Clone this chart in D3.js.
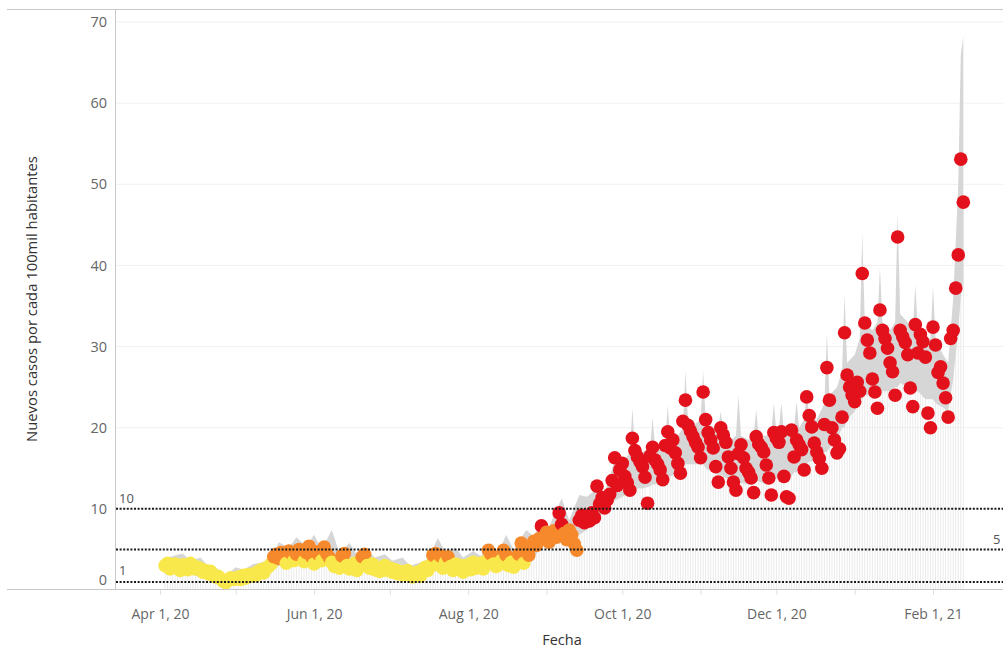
<!DOCTYPE html>
<html>
<head>
<meta charset="utf-8">
<script src="https://cdnjs.cloudflare.com/ajax/libs/d3/7.8.5/d3.min.js"></script>
<style>
  body { margin: 0; background: #fff; }
  text { font-family: "Open Sans", sans-serif; }
</style>
</head>
<body>
<svg id="chart" width="1003" height="652"></svg>
<script>
// daily new cases per 100k, one value per day starting Apr 3, 2020
var fechaInicio = new Date(2020, 3, 3);
var casos = [
  3.0, 3.3, 2.6, 2.9, 3.2, 2.7, 2.4,
  3.1, 2.8, 2.5, 3.3, 3.0, 2.6, 2.8,
  2.6, 2.2, 2.4, 2.0, 2.3, 1.8, 1.6,
  1.7, 1.4, 1.1, 0.9, 1.2, 1.5, 1.3,
  1.4, 1.6, 1.3, 1.8, 1.5, 1.9, 1.7,
  2.0, 1.8, 2.3, 2.5, 2.1, 2.7, 2.9,
  3.2, 4.1, 4.4, 3.9, 4.6, 4.3, 3.3,
  4.8, 4.5, 3.6, 4.4, 5.0, 4.2, 3.5,
  4.6, 5.4, 4.1, 3.2, 4.7, 4.3, 3.6,
  5.3, 4.5, 4.0, 3.4, 2.9, 3.1, 2.7,
  4.2, 4.5, 3.0, 2.6, 2.8, 3.3, 2.4,
  2.9, 4.1, 4.4, 3.0, 2.7, 3.2, 2.5,
  2.8, 2.3, 2.6, 3.0, 2.4, 2.7, 2.2,
  2.5, 2.0, 2.3, 1.9, 2.1, 2.4, 1.8,
  1.6, 1.9, 2.2, 1.7, 2.5, 2.8, 2.4,
  3.0, 4.3, 4.5, 3.1, 4.2, 2.7, 3.4,
  4.1, 2.9, 2.4, 3.2, 2.6, 3.0, 2.2,
  2.8, 3.1, 2.5, 3.4, 2.7, 3.0, 3.3,
  2.6, 3.5, 4.9, 4.4, 3.2, 2.9, 3.1,
  3.6, 4.9, 4.3, 3.0, 3.4, 2.8, 3.2,
  4.4, 5.8, 3.3, 5.1, 4.3, 5.4, 6.0,
  5.5, 6.3, 7.9, 6.6, 7.1, 5.9, 6.8,
  7.3, 6.5, 9.5, 8.1, 7.0, 6.2, 7.4,
  6.8, 5.7, 4.9, 8.6, 9.2, 8.3, 9.0,
  8.5, 9.5, 8.9, 12.8, 10.6, 11.4, 10.1,
  11.1, 11.8, 13.5, 16.3, 12.9, 14.8, 15.6,
  14.0, 13.2, 12.3, 18.7, 17.2, 16.4, 15.8,
  15.2, 13.9, 10.7, 16.5, 17.6, 16.0, 15.5,
  14.8, 13.6, 17.8, 19.5, 17.5, 18.5, 16.9,
  15.6, 14.4, 20.8, 23.4, 20.3, 19.6, 18.9,
  18.2, 17.6, 16.3, 24.4, 21.0, 19.4, 18.5,
  17.5, 15.2, 13.3, 20.0, 19.1, 18.2, 16.4,
  15.0, 13.3, 12.3, 16.8, 17.9, 16.3, 15.0,
  14.5, 13.8, 12.0, 18.9, 18.0, 17.6, 17.0,
  15.4, 13.8, 11.7, 19.4, 18.7, 18.2, 19.5,
  14.0, 11.5, 11.3, 19.7, 16.4, 18.5, 17.9,
  17.3, 14.8, 23.8, 21.5, 20.1, 18.1, 17.0,
  16.2, 15.0, 20.4, 27.4, 23.4, 20.0, 18.5,
  16.9, 17.4, 21.3, 31.7, 26.5, 25.0, 24.0,
  23.2, 25.6, 24.5, 39.0, 32.9, 30.8, 29.2,
  26.0, 24.4, 22.4, 34.5, 32.0, 31.0, 29.8,
  28.0, 26.9, 24.0, 43.5, 32.0, 31.2, 30.5,
  29.0, 24.9, 22.6, 32.7, 29.2, 31.5, 30.6,
  28.7, 21.8, 20.0, 32.4, 30.2, 26.8, 27.5,
  25.5, 23.7, 21.3, 31.0, 32.0, 37.2, 41.3,
  53.1, 47.8
];

// grey range band, sampled (days since Apr 1, 2020)
var bandDia = [2, 5, 9, 12, 16, 19, 23, 26, 30, 33, 37, 40, 44, 47, 51, 54, 58, 61, 64, 68,
  71, 75, 78, 82, 85, 89, 92, 96, 99, 103, 106, 110, 113, 117, 120, 124, 127, 131, 134, 137,
  140, 145, 148, 151, 154, 159, 162, 166, 169, 173, 176,
  180, 183, 186, 187, 188, 191, 194, 195, 196, 200, 201, 202, 205, 207, 208, 209, 212, 214, 215, 216,
  219, 221, 222, 223, 226, 228, 229, 230, 233, 235, 236, 237, 240, 242, 243, 244, 245, 246, 247, 250,
  251, 252, 253, 255, 256, 257, 260, 263, 264, 265, 268, 270, 271, 272, 275, 277, 278, 279, 282, 284,
  285, 286, 289, 291, 292, 293, 296, 298, 299, 300, 303, 305, 306, 307, 310, 312, 314, 316, 317, 318];
var bandMin = [2.0, 2.2, 1.8, 2.0, 1.5, 1.3, 0.6, 0.3, 0.6, 0.9, 1.2, 1.6, 2.2, 3.0, 3.2, 3.4, 3.0, 3.3, 3.2, 3.0,
  2.6, 2.4, 2.3, 2.2, 2.0, 1.9, 1.6, 1.4, 1.1, 1.4, 1.8, 2.6, 2.3, 2.0, 1.9, 2.2, 2.3, 2.6, 2.5, 3.0,
  2.6, 3.6, 4.0, 5.4, 5.6, 6.5, 6.0, 6.8, 7.4, 8.8, 9.6,
  11.0, 11.5, 12.0, 12.5, 12.5, 12.5, 12.8, 13.0, 13.0, 13.5, 14.0, 14.0, 14.5, 15.0, 15.5, 15.5, 15.5, 15.5, 15.5, 15.0,
  14.5, 14.2, 14.2, 14.0, 13.5, 13.2, 13.2, 13.2, 13.0, 13.2, 13.4, 13.4, 13.0, 13.5, 13.5, 13.8, 14.0, 14.0, 14.0, 14.0,
  14.5, 14.5, 15.0, 15.5, 15.5, 15.8, 16.0, 17.0, 17.0, 17.5, 18.5, 20.0, 20.0, 21.0, 22.0, 23.5, 23.5, 24.0, 24.0, 24.5,
  24.5, 24.5, 24.5, 25.0, 25.0, 25.5, 25.0, 24.5, 24.5, 24.5, 23.5, 23.5, 23.5, 23.0, 22.5, 22.0, 26.0, 32.0, 36.0, 38.0];
var bandMax = [3.8, 4.2, 4.5, 3.6, 4.0, 3.0, 2.6, 1.8, 2.8, 2.5, 3.2, 3.4, 3.8, 5.9, 5.2, 6.5, 5.4, 6.8, 5.0, 7.4,
  4.6, 5.8, 4.4, 5.0, 4.0, 4.4, 3.6, 4.0, 3.0, 3.4, 3.8, 6.4, 4.6, 5.2, 4.0, 4.8, 4.2, 5.8, 4.6, 6.8,
  5.0, 7.4, 6.6, 8.6, 7.8, 11.3, 8.6, 11.7, 11.5, 12.5, 12.0,
  16.0, 15.5, 17.0, 22.4, 17.5, 17.0, 17.5, 21.3, 17.5, 18.0, 22.8, 18.5, 19.0, 20.0, 27.0, 21.0, 20.5, 21.0, 27.0, 21.0,
  20.0, 20.0, 22.0, 19.5, 18.5, 19.0, 24.0, 19.0, 18.5, 19.0, 22.2, 19.0, 19.0, 19.5, 23.0, 19.5, 20.0, 23.0, 19.5, 20.0,
  20.0, 23.2, 20.0, 21.0, 24.5, 21.0, 21.0, 23.0, 31.7, 24.0, 25.0, 27.0, 36.4, 28.0, 29.0, 31.0, 44.0, 33.0, 32.0, 33.0,
  39.7, 33.0, 32.0, 33.0, 46.6, 34.0, 33.0, 32.0, 37.6, 32.0, 31.0, 31.0, 37.4, 31.0, 29.0, 28.0, 36.0, 50.0, 66.0, 68.2];

var yTicks = [0, 10, 20, 30, 40, 50, 60, 70];
var refLines = [1, 5, 10];
var refLabels = ["1", "5", "10"];
var tickFechas = [new Date(2020, 3, 1), new Date(2020, 5, 1), new Date(2020, 7, 1),
  new Date(2020, 9, 1), new Date(2020, 11, 1), new Date(2021, 1, 1)];
var colorCortes = [3.8, 7.6];
var colores = ["#f9e84b", "#f6892b", "#e3111b"];

var svg = d3.select("#chart");
var W = 1003;

var x = d3.scaleTime()
    .domain([new Date(2020, 3, 1), new Date(2021, 1, 1)])
    .range([160, 933]);
var y = d3.scaleLinear().domain([0, 70]).range([590, 22]);
var color = d3.scaleThreshold().domain(colorCortes).range(colores);

var origen = new Date(2020, 3, 1);
var data = casos.map(function(v, i) {
  return {fecha: d3.timeDay.offset(fechaInicio, i), valor: v};
});
var band = bandDia.map(function(d, i) {
  return {fecha: d3.timeDay.offset(origen, d), lo: bandMin[i], hi: bandMax[i]};
});

// gridlines
svg.append("g").selectAll("line")
  .data(yTicks.slice(1))
  .enter().append("line")
    .attr("x1", 115).attr("x2", W)
    .attr("y1", function(d) { return y(d); })
    .attr("y2", function(d) { return y(d); })
    .style("stroke", "#f0f0f0")
    .style("stroke-width", 1);

// faint drop lines
svg.append("g").selectAll("line")
  .data(data)
  .enter().append("line")
    .attr("x1", function(d) { return x(d.fecha); })
    .attr("x2", function(d) { return x(d.fecha); })
    .attr("y1", y(0))
    .attr("y2", function(d) { return y(d.valor); })
    .style("stroke", "#ebebeb")
    .style("stroke-width", 1);

// grey band
var area = d3.area()
    .x(function(d) { return x(d.fecha); })
    .y0(function(d) { return y(d.lo); })
    .y1(function(d) { return y(d.hi); });

svg.append("path")
    .datum(band)
    .attr("d", area)
    .style("fill", "#d6d6d6");

// dots
svg.append("g").selectAll("circle")
  .data(data)
  .enter().append("circle")
    .attr("cx", function(d) { return x(d.fecha); })
    .attr("cy", function(d) { return y(d.valor); })
    .attr("r", 6.8)
    .style("fill", function(d) { return color(d.valor); });

// reference lines
svg.append("g").selectAll("line")
  .data(refLines)
  .enter().append("line")
    .attr("x1", 116).attr("x2", W)
    .attr("y1", function(d) { return y(d); })
    .attr("y2", function(d) { return y(d); })
    .style("stroke", "#1a1a1a")
    .style("stroke-width", 2)
    .style("stroke-dasharray", "2,1.6");

svg.append("text").attr("x", 119).attr("y", y(10) - 6)
    .attr("font-size", "13px").attr("fill", "#555").text(refLabels[2]);
svg.append("text").attr("x", 119).attr("y", y(1) - 7)
    .attr("font-size", "13px").attr("fill", "#555").text(refLabels[0]);
svg.append("text").attr("x", 993).attr("y", y(5) - 5)
    .attr("font-size", "13px").attr("fill", "#555").text(refLabels[1]);

// frame lines
svg.append("line").attr("x1", 7).attr("x2", W).attr("y1", 9.5).attr("y2", 9.5)
    .style("stroke", "#c8c8c8");
svg.append("line").attr("x1", 115.5).attr("x2", 115.5).attr("y1", 9.5).attr("y2", 590)
    .style("stroke", "#c8c8c8");
svg.append("line").attr("x1", 7).attr("x2", W).attr("y1", 589.5).attr("y2", 589.5)
    .style("stroke", "#c8c8c8");

// y axis
var yAxis = svg.append("g")
    .attr("transform", "translate(109,0)")
    .call(d3.axisLeft(y).tickValues(yTicks).tickSize(0).tickPadding(2));
yAxis.select(".domain").remove();
yAxis.selectAll("text")
    .attr("font-size", "14.5px")
    .attr("fill", "#666")
    .style("font-family", "Open Sans")
    .attr("dy", function(d) { return d === 0 ? "-0.38em" : "0.32em"; });

// x axis
var meses = d3.timeMonth.range(new Date(2020, 3, 1), new Date(2021, 1, 2));
var fmt = d3.timeFormat("%b %-d, %y");
var xAxis = svg.append("g")
    .attr("transform", "translate(0,590)")
    .call(d3.axisBottom(x).tickValues(meses).tickSize(5).tickPadding(14)
      .tickFormat(function(d) {
        return tickFechas.some(function(t) { return +t === +d; }) ? fmt(d) : "";
      }));
xAxis.select(".domain").remove();
xAxis.selectAll(".tick line").style("stroke", "#e0e0e0");
xAxis.selectAll("text")
    .attr("font-size", "14px")
    .attr("fill", "#666")
    .style("font-family", "Open Sans");

// axis titles
svg.append("text")
    .attr("transform", "translate(37,299) rotate(-90)")
    .attr("text-anchor", "middle")
    .attr("font-size", "14.8px")
    .attr("fill", "#333")
    .text("Nuevos casos por cada 100mil habitantes");

svg.append("text")
    .attr("x", 562).attr("y", 645)
    .attr("text-anchor", "middle")
    .attr("font-size", "14.5px")
    .attr("fill", "#333")
    .text("Fecha");
</script>
</body>
</html>
